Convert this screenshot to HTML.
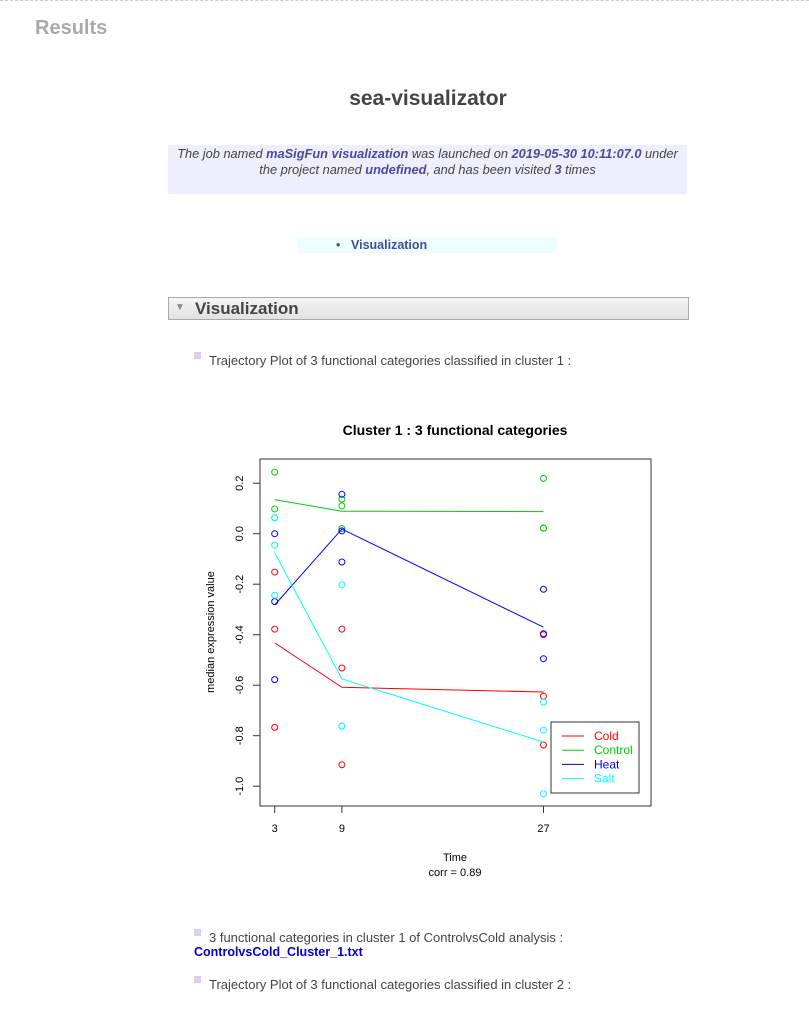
<!DOCTYPE html>
<html><head><meta charset="utf-8"><style>
body{margin:0;width:809px;height:1011px;background:#fff;font-family:"Liberation Sans",sans-serif;position:relative;overflow:hidden}
.a{position:absolute}
.b{color:#4a4aa0;font-weight:bold}
</style></head><body>
<div class="a" style="left:0;top:0;width:809px;border-top:1px dashed #ccc"></div>
<div class="a" style="left:35px;top:17px;font-size:20px;font-weight:bold;color:#aaa">Results</div>
<div class="a" style="left:0;width:856px;top:87px;text-align:center;font-size:21px;font-weight:bold;color:#444">sea-visualizator</div>
<div class="a" style="left:168px;top:145px;width:519px;height:48px;background:#eeeefc;font-size:12.8px;font-style:italic;color:#444;text-align:center;line-height:16px;padding-top:1px">The job named <span class="b">maSigFun visualization</span> was launched on <span class="b">2019-05-30 10:11:07.0</span> under<br>the project named <span class="b">undefined</span>, and has been visited <span class="b">3</span> times</div>
<div class="a" style="left:297px;top:237px;width:260px;height:16px;background:#ecfefe;font-size:12.5px;line-height:16px"><span style="position:absolute;left:39px;color:#555">•</span><span class="b" style="position:absolute;left:54px">Visualization</span></div>
<div class="a" style="left:168px;top:297px;width:519px;height:21px;border:1px solid #aaa;background:linear-gradient(#f4f4f4,#e2e2e2)"><span style="position:absolute;left:6px;top:4px;font-size:10px;color:#888">▼</span><span style="position:absolute;left:26px;top:1px;font-size:17px;font-weight:bold;color:#444">Visualization</span></div>
<div class="a" style="left:194px;top:352px;width:7px;height:7px;background:#ddd0ec"></div>
<div class="a" style="left:209px;top:353px;font-size:13px;color:#444">Trajectory Plot of 3 functional categories classified in cluster 1 :</div>
<svg class="a" style="left:0;top:0" width="809" height="1011" font-family="Liberation Sans, sans-serif" id="chart"></svg>
<div class="a" style="left:194px;top:929px;width:7px;height:7px;background:#ddd0ec"></div>
<div class="a" style="left:209px;top:930px;font-size:13px;color:#444">3 functional categories in cluster 1 of ControlvsCold analysis :</div>
<div class="a" style="left:194px;top:945px;font-size:12.5px;font-weight:bold;color:#0000cc">ControlvsCold_Cluster_1.txt</div>
<div class="a" style="left:194px;top:976px;width:7px;height:7px;background:#ddd0ec"></div>
<div class="a" style="left:209px;top:977px;font-size:13px;color:#444">Trajectory Plot of 3 functional categories classified in cluster 2 :</div>
<script>
const times=[3,9,27];
const seriesNames=["Cold","Control","Heat","Salt"];
const seriesColors=["#ff0000","#00cd00","#0000ff","#00ffff"];
const cold=[[-0.152,-0.378,-0.767],[-0.378,-0.532,-0.915],[-0.40,-0.644,-0.837]];
const control=[[0.244,0.098,0.063],[0.137,0.110,0.020],[0.219,0.022,0.022]];
const heat=[[0.0,-0.269,-0.578],[0.156,0.011,-0.112],[-0.220,-0.396,-0.495]];
const salt=[[0.063,-0.045,-0.244],[-0.202,-0.762,-0.762],[-0.667,-0.778,-1.030]];
const yTicks=[-1.0,-0.8,-0.6,-0.4,-0.2,0.0,0.2];
const yTickLabels=["-1.0","-0.8","-0.6","-0.4","-0.2","0.0","0.2"];
const allSeries=[cold,control,heat,salt];
const X=t=>274.7+(t-3)*11.2;
const Y=v=>533.7-v*252.5;
const svg=document.getElementById('chart');
const NS='http://www.w3.org/2000/svg';
function mk(tag,at,txt){const e=document.createElementNS(NS,tag);for(const k in at)e.setAttribute(k,at[k]);if(txt!==undefined)e.textContent=txt;svg.appendChild(e);return e;}
let e;
e=mk('rect',{x:260,y:459,width:391,height:347,fill:'none',stroke:'#333','stroke-width':1});


e=mk('text',{x:455,y:435,'text-anchor':'middle','font-size':14,'font-weight':'bold'},'Cluster 1 : 3 functional categories');


yTicks.forEach((v,i)=>{
 e=mk('line',{x1:253,x2:260,y1:Y(v),y2:Y(v),stroke:'#333'});
 
 
 e=mk('text',{x:0,y:0,transform:`translate(243,${Y(v)}) rotate(-90)`,'text-anchor':'middle','font-size':11},yTickLabels[i]);
 
 
});
times.forEach(t=>{
 e=mk('line',{x1:X(t),x2:X(t),y1:806,y2:813,stroke:'#333'});
 
 
 e=mk('text',{x:X(t),y:832,'text-anchor':'middle','font-size':11},String(t));
 
 
});
e=mk('text',{x:455,y:861,'text-anchor':'middle','font-size':11},'Time');


e=mk('text',{x:455,y:876,'text-anchor':'middle','font-size':11},'corr =  0.89');


e=mk('text',{x:0,y:0,transform:'translate(214,632) rotate(-90)','text-anchor':'middle','font-size':11},'median expression value');


allSeries.forEach((s,si)=>{
 const means=s.map(a=>a.reduce((p,c)=>p+c,0)/a.length);
 e=mk('polyline',{points:means.map((m,i)=>X(times[i])+','+Y(m)).join(' '),fill:'none',stroke:seriesColors[si],'stroke-width':1});
 
 
 s.forEach((arr,ti)=>arr.forEach(v=>{
  e=mk('circle',{cx:X(times[ti]),cy:Y(v),r:3,fill:'none',stroke:seriesColors[si],'stroke-width':1});
  
  
 }));
});
e=mk('rect',{x:551,y:722,width:88,height:71,fill:'#fff',stroke:'#333'});


seriesNames.forEach((n,i)=>{
 const y=736+i*14.2;
 e=mk('line',{x1:562,x2:584,y1:y,y2:y,stroke:seriesColors[i]});
 
 
 e=mk('text',{x:594,y:y+4,'font-size':12,fill:seriesColors[i]},n);
 
 
});
</script>
</body></html>
